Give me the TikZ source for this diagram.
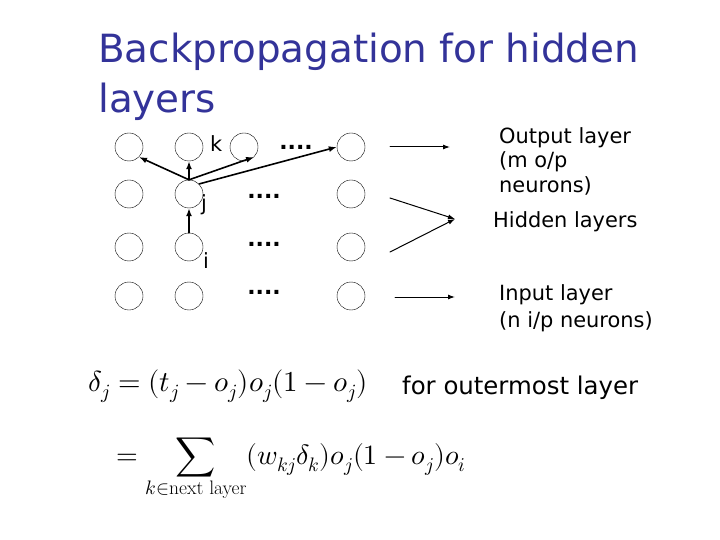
\documentclass[tikz,border=0pt]{standalone}
\usepackage{fontspec}
\setmainfont{DejaVu Sans}
\usepackage{amsmath}
\usepackage{unicode-math}
\setmathfont{Latin Modern Math}
\usetikzlibrary{arrows.meta}
\definecolor{titleblue}{rgb}{0.2,0.2,0.6}
\tikzset{neuron/.style={draw,circle,minimum size=28bp,inner sep=0pt,thin},
  lbl/.style={font=\fontsize{21}{25}\selectfont,anchor=west,inner sep=0pt},
  dots/.style={font=\fontsize{22}{24}\selectfont\bfseries},
  link/.style={-{Latex[length=8bp,width=6bp]},line width=1.6bp},
  layerarrow/.style={-{Latex[length=7bp,width=5bp]},line width=1bp}}
\begin{document}
\begin{tikzpicture}[line cap=round,line join=round,x=1bp,y=-1bp]
\useasboundingbox (0,0) rectangle (720,540);
% title
\node[anchor=west,inner sep=0pt,text=titleblue,font=\fontsize{39}{46}\selectfont] (title1) at (98,52) {Backpropagation for hidden};
\node[anchor=west,inner sep=0pt,text=titleblue,font=\fontsize{39}{46}\selectfont] (title2) at (98,102) {layers};
% neurons
\foreach \r/\y in {1/147,2/194,3/247,4/296}{
  \node[neuron] (a\r) at (129,\y) {};
  \node[neuron] (b\r) at (189,\y) {};
  \node[neuron] (d\r) at (351,\y) {};
}
\node[neuron] (c1) at (244,147) {};
\node[dots] (dots1) at (296,147) {....};
\foreach \r/\y in {2/196,3/244,4/292}
  \node[dots] (dots\r) at (264,\y) {....};
\node[lbl] (k) at (210,144) {k};
\node[lbl] (j) at (201,205) {j};
\node[lbl] (i) at (203,261) {i};
% connections
\draw[link] (b2.north) -- (a1.south east);
\draw[link] (b2.north) -- (b1.south);
\draw[link] (b2.north) -- (c1.south east);
\draw[link] (b2.north east) -- (d1.west);
\draw[link] (b3.north) -- (b2.south);
% layer arrows
\coordinate (o1) at (390,147);
\coordinate (o2) at (450,147);
\coordinate (h1) at (390,198);
\coordinate (h2) at (390,252);
\coordinate (hm) at (455,219);
\coordinate (n1) at (395,297);
\coordinate (n2) at (455,297);
\draw[layerarrow] (o1) -- (o2);
\draw[layerarrow] (h1) -- (hm);
\draw[layerarrow] (h2) -- (hm);
\draw[layerarrow] (n1) -- (n2);
\node[lbl] (out1) at (499,138) {Output layer};
\node[lbl] (out2) at (499,162) {(m o/p};
\node[lbl] (out3) at (499,186) {neurons)};
\node[lbl] (hid) at (493,222) {Hidden layers};
\node[lbl] (in1) at (499,295) {Input layer};
\node[lbl] (in2) at (499,322) {(n i/p neurons)};
% formulas
\node[anchor=west,inner sep=0pt,font=\fontsize{29}{33}\selectfont] (f1) at (88,386) {$\delta_j=(t_j-o_j)o_j(1-o_j)$};
\node[lbl,font=\fontsize{24.5}{28}\selectfont] (f1txt) at (402,388) {for outermost layer};
\node[anchor=west,inner sep=0pt,font=\fontsize{28}{32}\selectfont] (f2) at (116,470) {$=\displaystyle\sum_{k\in\text{\normalfont\fontspec{Latin Modern Roman}next layer}}(w_{kj}\delta_k)o_j(1-o_j)o_i$};
\end{tikzpicture}
\end{document}
